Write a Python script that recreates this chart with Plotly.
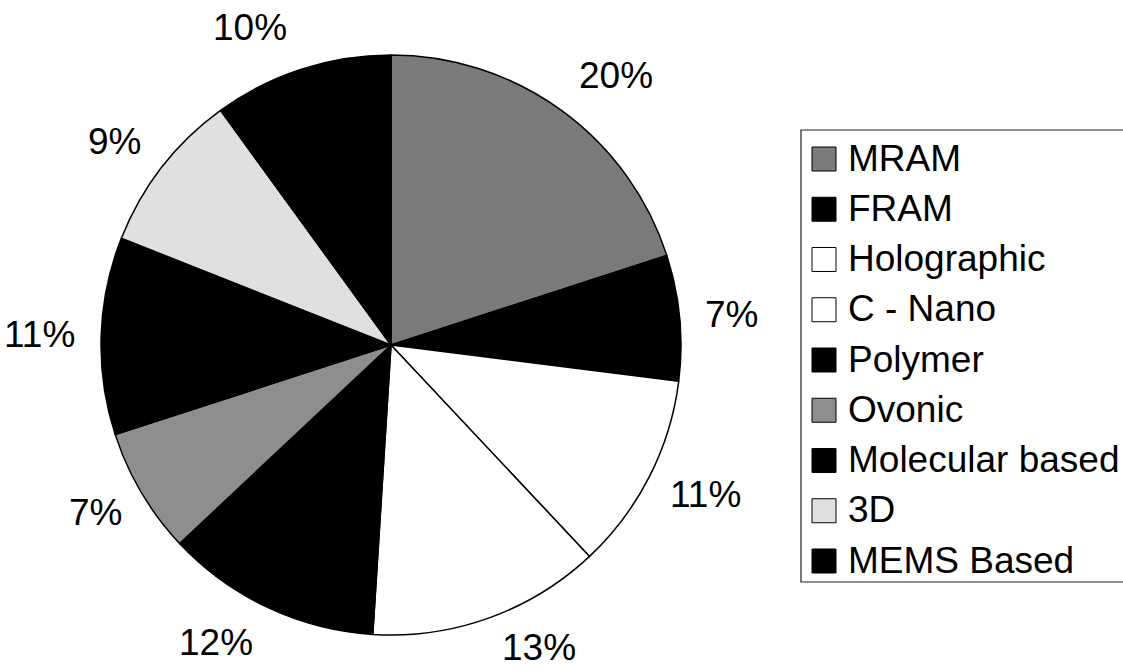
import math
import plotly.graph_objects as go

# Share of each emerging memory technology (percent)
technologies = ["MRAM", "FRAM", "Holographic", "C - Nano", "Polymer",
                "Ovonic", "Molecular based", "3D", "MEMS Based"]
shares = [20, 7, 11, 13, 12, 7, 11, 9, 10]
slice_colors = ["#7a7a7a", "#000000", "#ffffff", "#ffffff", "#000000",
                "#8e8e8e", "#000000", "#e0e0e0", "#000000"]

W, H = 1123, 671
CX, CY, R = 391, 345, 290          # pie centre and radius in pixels
FONT = "Arial, Liberation Sans, sans-serif"
LABEL_SIZE = 37

fig = go.Figure(go.Pie(
    labels=technologies,
    values=shares,
    sort=False,
    direction="clockwise",
    rotation=0,
    textinfo="none",
    hoverinfo="label+percent",
    showlegend=False,
    marker=dict(colors=slice_colors, line=dict(color="#000000", width=1.5)),
    domain=dict(x=[(CX - R) / W, (CX + R) / W],
                y=[1 - (CY + R) / H, 1 - (CY - R) / H]),
))

# Percentage labels just outside each slice, pushed out along the mid-angle;
# labels near the top/bottom are nudged sideways away from the vertical axis
total = sum(shares)
annotations = []
cum = 0.0
for name, v in zip(technologies, shares):
    mid = (cum + v / 2) / total * 2 * math.pi
    cum += v
    ux, uy = math.sin(mid), -math.cos(mid)
    text = f"{round(100 * v / total)}%"
    tw = 0.556 * LABEL_SIZE * (len(text) - 1) + 0.889 * LABEL_SIZE
    th = 28
    r_out = R * 1.085 + 6 * max(0.0, -uy)
    px = CX + r_out * ux + ux * tw / 2 + math.copysign(1, ux) * (uy ** 4) * tw / 2
    py = CY + r_out * uy + uy * th / 2
    py = min(max(py, 24), H - 24)
    annotations.append(dict(
        x=px / W, y=1 - py / H, xref="paper", yref="paper",
        text=text, showarrow=False, xanchor="center", yanchor="middle",
        font=dict(family=FONT, size=LABEL_SIZE, color="#000000"),
    ))

# Legend box drawn with shapes so the swatches match the label size
shapes = []
box_left, box_top, box_bottom = 801, 130, 582
shapes.append(dict(type="rect", xref="paper", yref="paper",
                   x0=box_left / W, x1=1.02, y0=1 - box_bottom / H, y1=1 - box_top / H,
                   line=dict(color="#222222", width=1.2), fillcolor="rgba(0,0,0,0)"))
row0, row_step, sw = 158, 50.25, 24
for i, (name, col) in enumerate(zip(technologies, slice_colors)):
    yc = row0 + i * row_step
    shapes.append(dict(type="rect", xref="paper", yref="paper",
                       x0=812 / W, x1=(812 + sw) / W,
                       y0=1 - (yc + 1 + sw / 2) / H, y1=1 - (yc + 1 - sw / 2) / H,
                       line=dict(color="#000000", width=1), fillcolor=col))
    annotations.append(dict(
        x=846 / W, y=1 - yc / H, xref="paper", yref="paper",
        text=name, showarrow=False, xanchor="left", yanchor="middle",
        font=dict(family=FONT, size=LABEL_SIZE, color="#000000"),
    ))

fig.update_layout(
    width=W, height=H,
    margin=dict(l=0, r=0, t=0, b=0),
    paper_bgcolor="#ffffff",
    plot_bgcolor="#ffffff",
    annotations=annotations,
    shapes=shapes,
)

fig.write_html("out.html")
